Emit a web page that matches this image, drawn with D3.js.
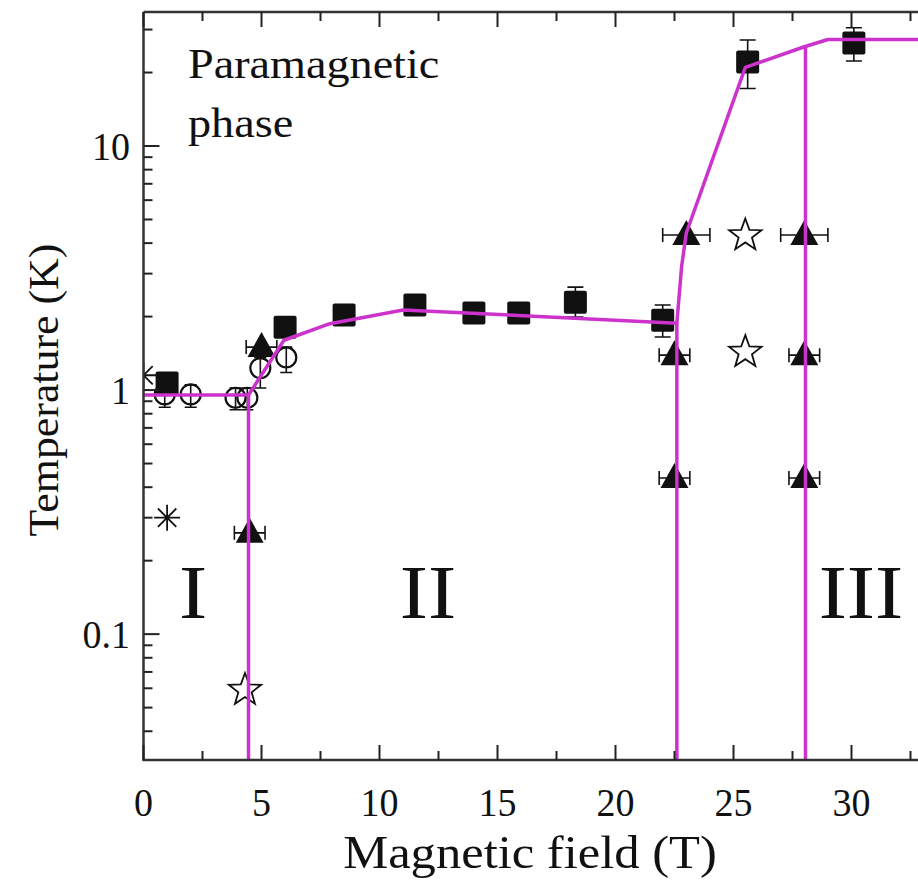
<!DOCTYPE html>
<html><head><meta charset="utf-8">
<script src="https://cdn.jsdelivr.net/npm/d3@7"></script>
<style>body{margin:0;background:#fff} text{font-family:"Liberation Serif","DejaVu Serif",serif;}</style>
</head><body><svg id="c" width="918" height="888"></svg>
<script>
// ---- data ----
const squareField   = [1.0, 6.0, 8.5, 11.5, 14.0, 15.9, 18.3, 22.0, 25.6, 30.1];
const squareTemp    = [1.07, 1.81, 2.03, 2.23, 2.07, 2.07, 2.29, 1.93, 22.1, 26.4];
const squareErrLow  = [null, null, null, null, null, null, 1.99, 1.65, 17.2, 22.3];
const squareErrHigh = [null, null, null, null, null, null, 2.64, 2.23, 27.2, 30.5];

const circleField   = [0.9, 2.0, 3.9, 4.4, 4.95, 6.05];
const circleTemp    = [0.96, 0.96, 0.93, 0.93, 1.23, 1.36];
const circleErrLow  = [0.85, 0.85, 0.83, 0.83, 1.02, 1.18];
const circleErrHigh = [1.05, 1.05, 1.02, 1.02, 1.36, 1.5];

const triField    = [4.5, 5.0, 22.5, 22.5, 23.0, 28.0, 28.0, 28.0];
const triTemp     = [0.26, 1.5, 0.436, 1.39, 4.32, 0.436, 1.39, 4.32];
const triFieldErr = [0.65, 0.65, 0.65, 0.65, 1.0, 0.65, 0.65, 1.0];

const starField = [4.3, 25.5, 25.5];
const starTemp  = [0.059, 4.3, 1.43];

const astField = [1.0, 0.0];
const astTemp  = [0.3, 1.15];

const boundaryField = [0, 4.45, 5.95, 7.9, 11.0, 22.6, 22.8, 23.0, 25.5, 28.0, 29.0, 33];
const boundaryTemp  = [0.955, 0.955, 1.6, 1.87, 2.13, 1.88, 3.2, 4.4, 21, 25.5, 27.3, 27.3];

const vlineField = [4.45, 22.6, 28.05];
const vlineTop   = [0.955, 1.88, 25.5];

const xTickValues = [0, 5, 10, 15, 20, 25, 30];
const xTickLabels = ["0", "5", "10", "15", "20", "25", "30"];
const yTickValues = [0.1, 1, 10];
const yTickLabels = ["0.1", "1", "10"];
const regionLabels = ["I", "II", "III"];
const regionField  = [2.1, 12.05, 30.4];

// ---- layout ----
const L = 143.5, R = 918, T = 12, B = 760;
const MAG = "#cc33cc";

const svg = d3.select("#c");
const x = d3.scaleLinear().domain([0, 33]).range([L, L + 23.6 * 33]);
const y = d3.scaleLog().domain([0.0305, 35.4]).range([B, T]);

svg.append("defs").append("clipPath").attr("id", "clip")
  .append("rect").attr("x", L).attr("y", T).attr("width", R - L).attr("height", B - T);

const plot = svg.append("g").attr("clip-path", "url(#clip)");

function txt(g, px, py, s, size, anchor, sx, rot) {
  return g.append("text")
    .attr("transform", `translate(${px},${py})` + (rot ? ` rotate(${rot})` : "") + ` scale(${sx},1)`)
    .style("font-size", size + "px")
    .attr("text-anchor", anchor || "start").attr("fill", "#111").text(s);
}

// ---- error bars ----
const eb = plot.append("g").attr("stroke", "#111").attr("stroke-width", 1.6).attr("fill", "none");
squareField.forEach((f, i) => {
  if (squareErrLow[i] == null) return;
  const cx = x(f), y1 = y(squareErrLow[i]), y2 = y(squareErrHigh[i]);
  eb.append("path").attr("d", `M${cx},${y1}V${y2}M${cx - 8},${y1}H${cx + 8}M${cx - 8},${y2}H${cx + 8}`);
});
circleField.forEach((f, i) => {
  const cx = x(f), y1 = y(circleErrLow[i]), y2 = y(circleErrHigh[i]);
  eb.append("path").attr("d", `M${cx},${y1}V${y2}M${cx - 6},${y1}H${cx + 6}M${cx - 6},${y2}H${cx + 6}`);
});
triField.forEach((f, i) => {
  const cy = y(triTemp[i]), x1 = x(f - triFieldErr[i]), x2 = x(f + triFieldErr[i]);
  eb.append("path").attr("d", `M${x1},${cy}H${x2}M${x1},${cy - 7}V${cy + 7}M${x2},${cy - 7}V${cy + 7}`);
});

// ---- markers ----
plot.append("g").selectAll("rect").data(squareField).join("rect")
  .attr("x", (d) => x(d) - 11.5).attr("y", (d, i) => y(squareTemp[i]) - 11.5)
  .attr("width", 23).attr("height", 23).attr("rx", 2).attr("fill", "#111");

plot.append("g").selectAll("circle").data(circleField).join("circle")
  .attr("cx", (d) => x(d)).attr("cy", (d, i) => y(circleTemp[i])).attr("r", 10)
  .attr("fill", "none").attr("stroke", "#111").attr("stroke-width", 2.2);

plot.append("g").selectAll("path").data(triField).join("path")
  .attr("d", (d, i) => { const cx = x(d), cy = y(triTemp[i]); return `M${cx},${cy - 15}L${cx + 14},${cy + 10}L${cx - 14},${cy + 10}Z`; })
  .attr("fill", "#111");

function starPath(cx, cy, R1, r1) {
  const p = [];
  for (let k = 0; k < 10; k++) {
    const a = -Math.PI / 2 + k * Math.PI / 5, rr = k % 2 ? r1 : R1;
    p.push([cx + rr * Math.cos(a), cy + rr * Math.sin(a)]);
  }
  return "M" + p.map(q => q.join(",")).join("L") + "Z";
}
plot.append("g").selectAll("path").data(starField).join("path")
  .attr("d", (d, i) => starPath(x(d), y(starTemp[i]), 17, 7))
  .attr("fill", "none").attr("stroke", "#111").attr("stroke-width", 1.8).attr("stroke-linejoin", "miter");

plot.append("g").selectAll("path").data(astField).join("path")
  .attr("d", (d, i) => {
    const cx = x(d), cy = y(astTemp[i]), r = 13, q = r * 0.7071;
    return `M${cx - r},${cy}H${cx + r}M${cx},${cy - r}V${cy + r}M${cx - q},${cy - q}L${cx + q},${cy + q}M${cx - q},${cy + q}L${cx + q},${cy - q}`;
  })
  .attr("stroke", "#111").attr("stroke-width", 1.8);

// ---- phase boundary ----
const line = d3.line().x((d) => x(d[0])).y((d) => y(d[1]));
plot.append("path").datum(boundaryField.map((f, i) => [f, boundaryTemp[i]]))
  .attr("d", line).attr("fill", "none").attr("stroke", MAG).attr("stroke-width", 3.5).attr("stroke-linejoin", "round");
plot.append("g").selectAll("line").data(vlineField).join("line")
  .attr("x1", (d) => x(d)).attr("x2", (d) => x(d))
  .attr("y1", (d, i) => y(vlineTop[i])).attr("y2", B + 5)
  .attr("stroke", MAG).attr("stroke-width", 3.5);

// ---- axes ----
const ax = svg.append("g").attr("stroke", "#333").attr("stroke-width", 2.5).attr("fill", "none");
ax.append("path").attr("d", `M${L},${T}V${B}H${R}M${L},${T}H${R}`);

const tk = svg.append("g").attr("stroke", "#222").attr("stroke-width", 2);
for (let v = 0; v <= 33; v += 2.5) {
  const major = Math.abs(v % 5) < 1e-9, len = major ? 15 : 9, px = x(v);
  if (px > R) continue;
  tk.append("line").attr("x1", px).attr("x2", px).attr("y1", B).attr("y2", B - len);
  tk.append("line").attr("x1", px).attr("x2", px).attr("y1", T).attr("y2", T + len);
}
[0.01, 0.1, 1, 10].forEach(dec => {
  for (let m = 1; m <= 9; m++) {
    const v = dec * m;
    if (v < 0.0305 || v > 35.4) continue;
    const len = m === 1 ? 16 : 9, py = y(v);
    tk.append("line").attr("x1", L).attr("x2", L + len).attr("y1", py).attr("y2", py);
  }
});

xTickValues.forEach((v, i) => txt(svg, x(v), 816, xTickLabels[i], 40, "middle", 0.95));
yTickValues.forEach((v, i) => txt(svg, 130, y(v) + 14, yTickLabels[i], 40, "end", 0.95));

txt(svg, 530, 868, "Magnetic field (T)", 46, "middle", 1.1);
txt(svg, 58, 390, "Temperature (K)", 43, "middle", 1.02, -90);

txt(svg, 188, 78, "Paramagnetic", 42, "start", 1.1);
txt(svg, 188, 137, "phase", 42, "start", 1.1);

regionLabels.forEach((s, i) => txt(svg, x(regionField[i]), 618, s, 77, "middle", 1.1));
</script></body></html>
